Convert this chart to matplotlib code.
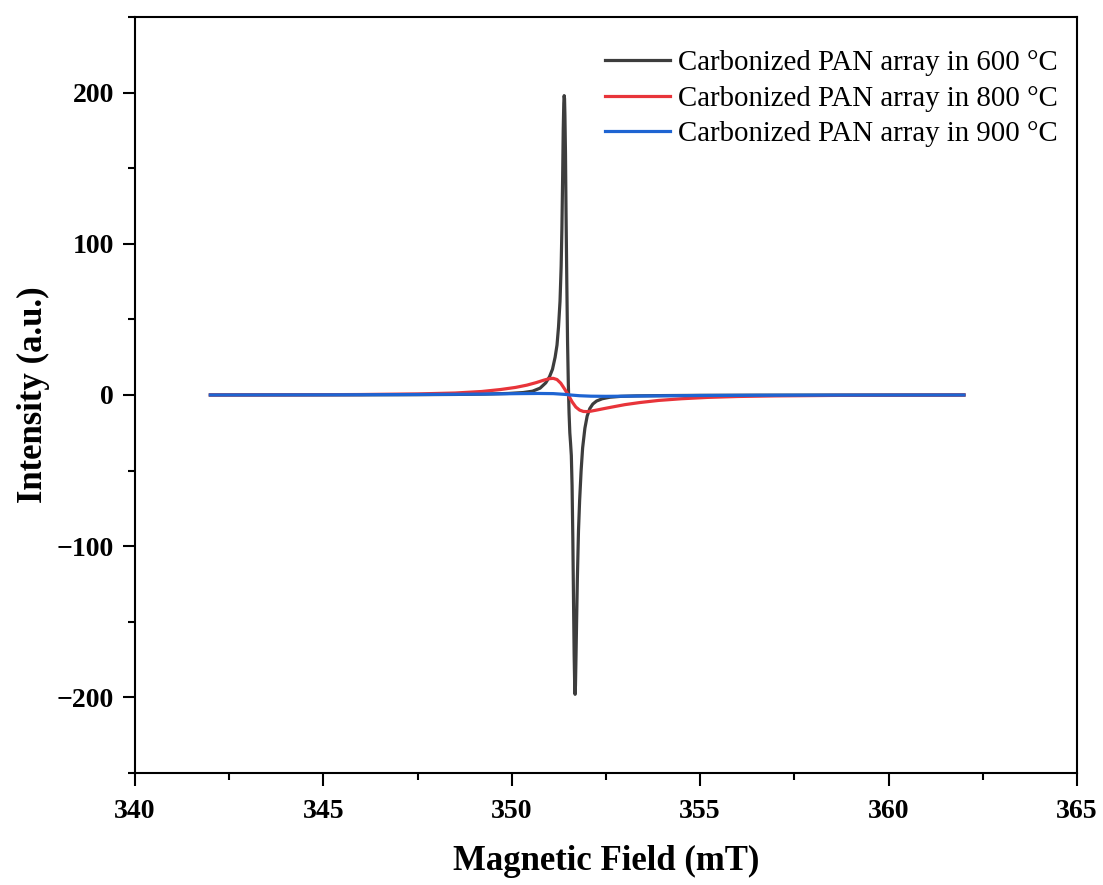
import matplotlib
matplotlib.use("Agg")
import matplotlib.pyplot as plt
from matplotlib.ticker import MultipleLocator

plt.rcParams['font.family'] = ['Liberation Serif', 'DejaVu Serif']

labels = ["Carbonized PAN array in 600 \u00b0C",
          "Carbonized PAN array in 800 \u00b0C",
          "Carbonized PAN array in 900 \u00b0C"]
colors = ["#3d3d3d", "#e8343a", "#1e64d2"]

x600 = [342, 344, 346, 347.5, 348.5, 349.3, 349.9, 350.3, 350.55, 350.75,
        350.9, 351.0, 351.08, 351.15, 351.2, 351.24, 351.28, 351.31, 351.33, 351.35,
        351.365, 351.38, 351.39, 351.40, 351.41, 351.425, 351.44, 351.46, 351.48, 351.5,
        351.52, 351.54, 351.56, 351.58, 351.6, 351.62, 351.64, 351.655, 351.67, 351.68,
        351.69, 351.705, 351.72, 351.74, 351.77, 351.8, 351.84, 351.88, 351.94, 352.0,
        352.07, 352.15, 352.25, 352.4, 352.6, 352.9, 353.3, 354, 355, 356.5,
        358, 360, 362]
y600 = [0, 0.05, 0.1, 0.2, 0.35, 0.6, 1.0, 1.6, 2.5, 4.5,
        8, 12, 17, 25, 33, 45, 62, 85, 110, 145,
        175, 193, 198, 196, 185, 160, 120, 75, 35, 8,
        -12, -25, -32, -40, -60, -95, -140, -172, -193, -198,
        -192, -172, -150, -122, -90, -70, -50, -35, -22, -14,
        -9, -6, -4, -2.5, -1.5, -0.9, -0.6, -0.4, -0.25, -0.15,
        -0.1, -0.05, 0]

x800 = [342, 344, 346, 347.5, 348.5, 349.2, 349.7, 350.1, 350.4, 350.65,
        350.85, 351.0, 351.1, 351.2, 351.3, 351.4, 351.5, 351.6, 351.7, 351.8,
        351.9, 352.0, 352.1, 352.25, 352.45, 352.7, 353.0, 353.4, 353.9, 354.5,
        355.2, 356, 357, 358.5, 360, 362]
y800 = [0, 0.1, 0.3, 0.7, 1.3, 2.3, 3.6, 5.0, 6.5, 8.2,
        9.8, 10.8, 11.0, 10.2, 7.8, 4.0, 0, -4.5, -8.0, -10.0,
        -10.9, -11.0, -10.7, -10.0, -9.0, -7.8, -6.4, -5.0, -3.6, -2.5,
        -1.6, -1.0, -0.6, -0.3, -0.15, 0]

x900 = [342, 345, 347, 348.5, 349.5, 350.2, 350.7, 351.1, 351.4, 351.6,
        351.8, 352.1, 352.5, 353, 353.8, 355, 356.5, 358.5, 362]
y900 = [0, 0.1, 0.25, 0.45, 0.7, 0.9, 1.0, 0.9, 0.4, -0.1,
        -0.5, -0.8, -0.9, -0.8, -0.6, -0.35, -0.2, -0.1, 0]

fig = plt.figure(figsize=(11.03, 8.85), dpi=100)
ax = fig.add_axes([0.1224, 0.1266, 0.854, 0.8542])

for xs, ys, c, lab in zip([x600, x800, x900], [y600, y800, y900], colors, labels):
    ax.plot(xs, ys, color=c, lw=2.3, label=lab, solid_joinstyle='round')

ax.set_xlim(340, 365)
ax.set_ylim(-250, 250)
ax.xaxis.set_major_locator(MultipleLocator(5))
ax.xaxis.set_minor_locator(MultipleLocator(2.5))
ax.yaxis.set_major_locator(MultipleLocator(100))
ax.yaxis.set_minor_locator(MultipleLocator(50))
ax.tick_params(which='both', direction='out', width=1.5, top=False, right=False)
ax.tick_params(which='major', length=9, labelsize=20)
ax.tick_params(axis='x', which='major', pad=10)
ax.tick_params(axis='y', which='major', pad=6)
ax.tick_params(which='minor', length=5)
for s in ax.spines.values():
    s.set_linewidth(1.5)
for t in ax.get_xticklabels() + ax.get_yticklabels():
    t.set_fontweight('bold')

ax.set_xlabel("Magnetic Field (mT)", fontsize=25, fontweight='bold', labelpad=15)
ax.set_ylabel("Intensity (a.u.)", fontsize=25, fontweight='bold', labelpad=5)

leg = ax.legend(loc='upper right', frameon=False, fontsize=20.8, handlelength=2.25,
                handletextpad=0.28, labelspacing=0.33, borderaxespad=0.0,
                borderpad=0.4, bbox_to_anchor=(0.992, 0.972))

fig.savefig("out.png", dpi=100)
